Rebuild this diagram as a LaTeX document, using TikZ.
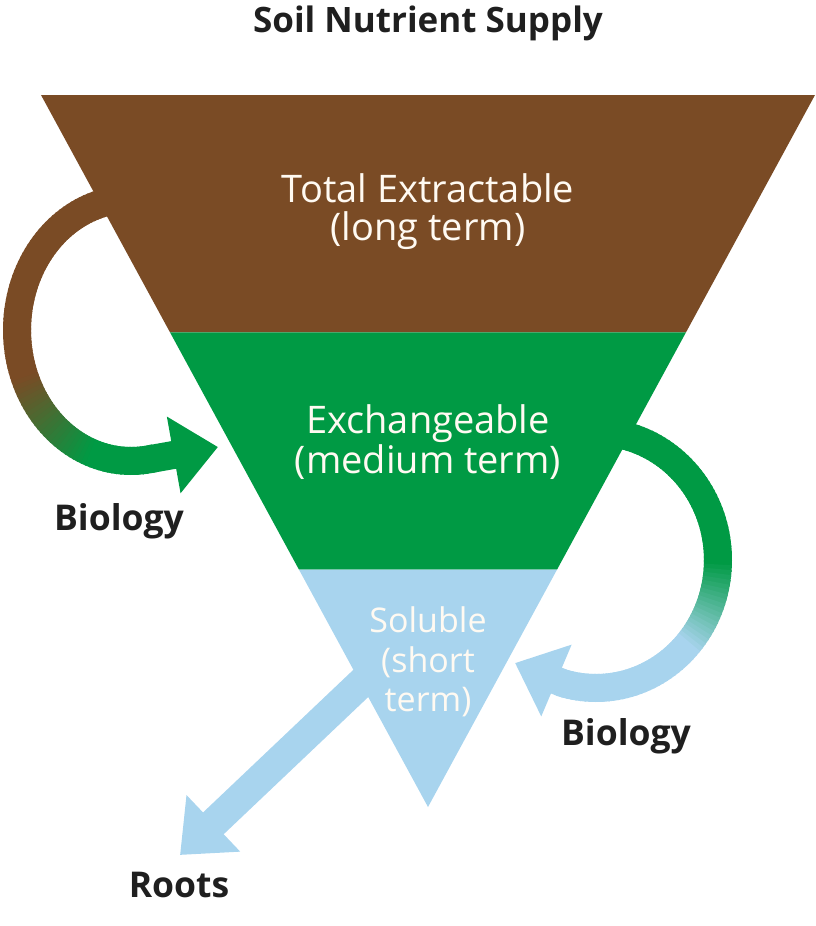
\documentclass[tikz,border=0pt]{standalone}
\usepackage{fontspec}
\setmainfont{Open Sans}
\usetikzlibrary{arrows.meta,calc}
\definecolor{soil}{RGB}{122,75,37}
\definecolor{leaf}{RGB}{0,154,68}
\definecolor{water}{RGB}{168,212,238}
\definecolor{cream}{RGB}{255,250,242}
\tikzset{
  flow/.style={line width=28pt},
  poolname/.style={text=cream, anchor=base, inner sep=0pt, font=\fontsize{38}{41}\selectfont},
  flowname/.style={text=black!88, anchor=base, inner sep=0pt, font=\fontsize{35.5}{38}\selectfont\bfseries}
}
\begin{document}
\begin{tikzpicture}[x=1pt,y=-1pt,line join=round]
\useasboundingbox (0,0) rectangle (816,926);
\coordinate (tl) at (41,95);
\coordinate (tr) at (815,95);
\coordinate (apex) at (428,807);
\coordinate (l1) at ($(tl)!1/3!(apex)$);
\coordinate (r1) at ($(tr)!1/3!(apex)$);
\coordinate (l2) at ($(tl)!2/3!(apex)$);
\coordinate (r2) at ($(tr)!2/3!(apex)$);
\coordinate (ltip) at (218,447);
\coordinate (rtip) at (515,663);
\coordinate (rootstart) at (396,650);
\coordinate (roottip) at (180,855);
% left loop, soil into leaf
\def\cx{131} \def\cy{330} \def\rx{114} \def\ry{131}
\foreach \t in {265,263,...,81}{
  \pgfmathsetmacro\p{max(0,min(100,(\t-112)*100/48))}
  \draw[flow,soil!\p!leaf] ({\cx+\rx*cos(\t)},{\cy+\ry*sin(\t)}) -- ({\cx+\rx*cos(\t-3)},{\cy+\ry*sin(\t-3)});
}
\draw[flow,leaf,-{Triangle[length=45pt,width=75pt]}] ({\cx+\rx*cos(80)},{\cy+\ry*sin(80)}) -- (ltip);
% right loop, leaf into water
\def\cx{596} \def\cy{560} \def\rx{122} \def\ry{128}
\foreach \t in {-80,-78,...,104}{
  \pgfmathsetmacro\p{max(0,min(100,(40-\t)*100/40))}
  \draw[flow,leaf!\p!water] ({\cx+\rx*cos(\t)},{\cy+\ry*sin(\t)}) -- ({\cx+\rx*cos(\t+3)},{\cy+\ry*sin(\t+3)});
}
\draw[flow,water,-{Triangle[length=45pt,width=75pt]}] ({\cx+\rx*cos(106)},{\cy+\ry*sin(106)}) -- (rtip);
% roots
\draw[flow,line width=30pt,water,-{Triangle[length=46pt,width=75pt]}] (rootstart) -- (roottip);
% the three pools
\fill[soil] (tl) -- (tr) -- (r1) -- (l1) -- cycle;
\fill[leaf] (l1) -- (r1) -- (r2) -- (l2) -- cycle;
\fill[water] (l2) -- (r2) -- (apex) -- cycle;
\node[flowname,font=\fontsize{35}{38}\selectfont\bfseries] (title) at (428,32) {Soil Nutrient Supply};
\node[poolname] (total) at (428,202) {Total Extractable};
\node[poolname] (totalterm) at (428,240) {(long term)};
\node[poolname] (exch) at (428,433) {Exchangeable};
\node[poolname] (exchterm) at (428,473) {(medium term)};
\node[poolname,font=\fontsize{34}{37}\selectfont] (sol) at (428,632) {Soluble};
\node[poolname,font=\fontsize{34}{37}\selectfont] (solshort) at (428,672) {(short};
\node[poolname,font=\fontsize{34}{37}\selectfont] (solterm) at (428,711) {term)};
\node[flowname] (bioleft) at (119,530) {Biology};
\node[flowname] (bioright) at (626,745) {Biology};
\node[flowname] (roots) at (179,897) {Roots};
\end{tikzpicture}
\end{document}
